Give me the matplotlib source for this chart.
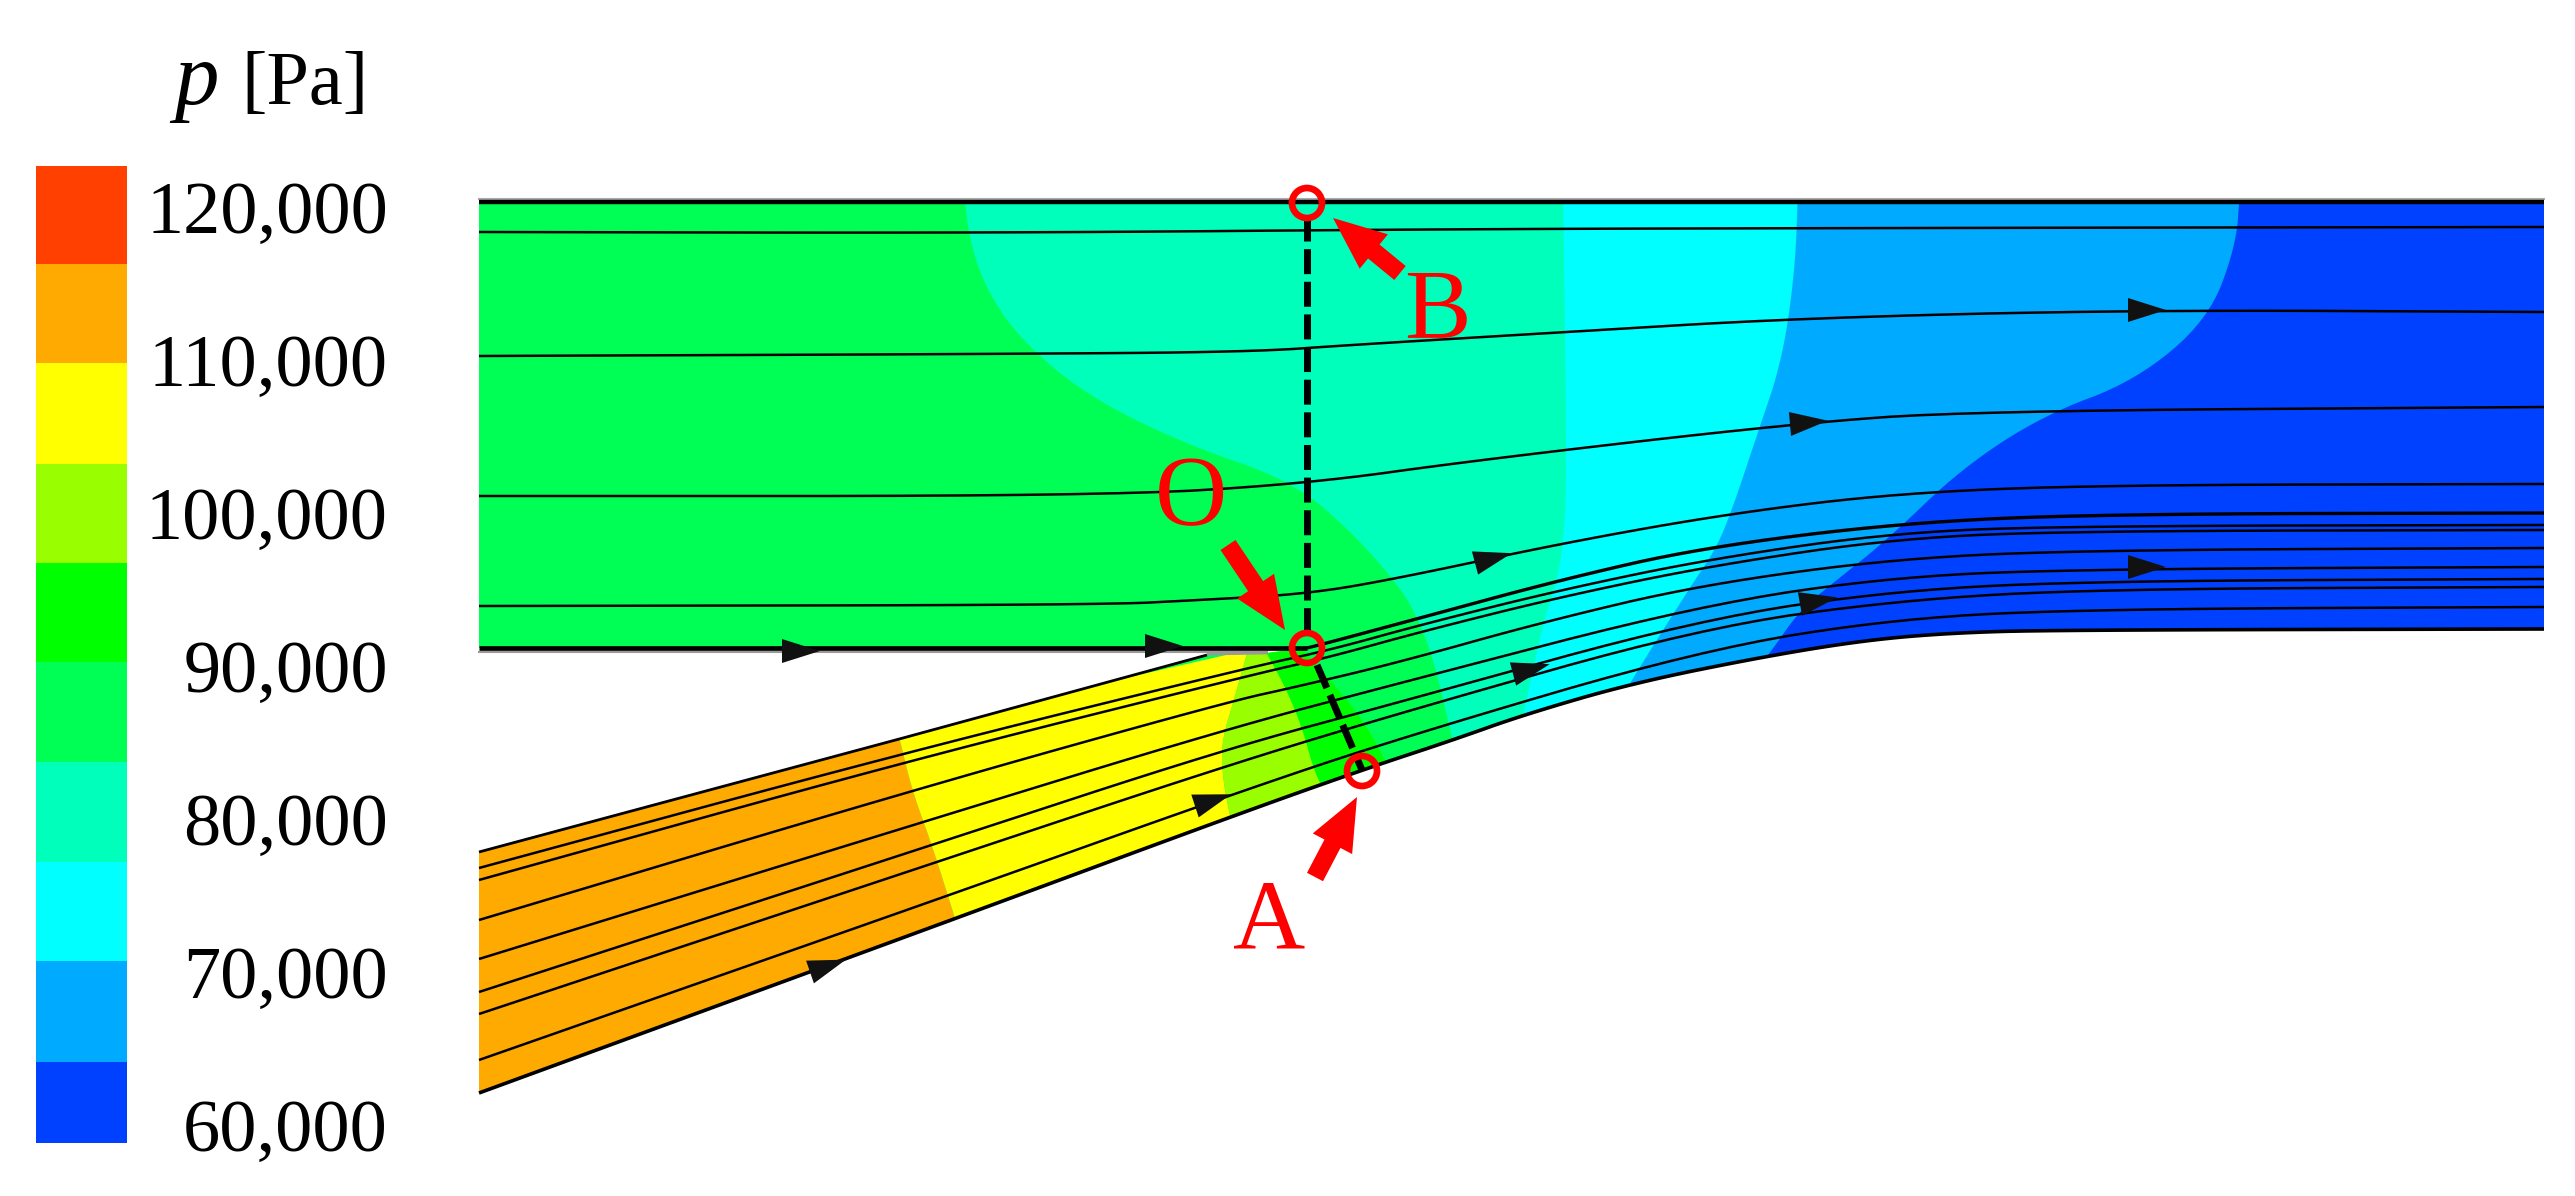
import matplotlib
matplotlib.use("Agg")
import matplotlib.pyplot as plt
from matplotlib.patches import Polygon, Circle, FancyArrowPatch
import numpy as np

plt.rcParams['font.family'] = ['Liberation Serif', 'DejaVu Serif']

# colour levels, top to bottom of the legend
level_colors = ['#ff4000', '#ffaa00', '#ffff00', '#99ff00', '#00ff00',
                '#00ff55', '#00ffbb', '#00ffff', '#00aaff', '#0040ff']
level_edges = [166, 264, 363, 464, 563, 662, 762, 862, 961, 1062, 1143]
tick_labels = ['120,000', '110,000', '100,000', '90,000', '80,000', '70,000', '60,000']
tick_baselines = [233, 386, 539, 692, 845, 998, 1151]

# walls
top_wall = [(479, 202), (2544, 202)]
mid_wall = [(479, 648), (1307, 648)]
lower_top_wall = [(479, 852), (903, 738), (1207, 655)]
lower_top_flat = [(1207, 654), (1267, 653)]
lower_bottom_wall = [(479, 1093), (957, 918), (1230, 817), (1362, 770), (1453, 740), (1523, 715),
                     (1633, 683), (1767, 656), (1867, 640), (1950, 633), (2050, 630), (2544, 629)]

# pressure band boundaries
b_inlet = [(470, 730), (470, 1110)]
b_orange_yellow = [(897, 730), (900, 740), (912, 790), (932, 845), (955, 918), (960, 935)]
b_yellow_lime = [(1248, 650), (1233, 703), (1222, 740), (1222, 773), (1230, 817), (1234, 830)]
b_lime_green = [(1265, 650), (1287, 690), (1303, 730), (1313, 767), (1322, 787), (1330, 805)]
b_green_mid = [(1303, 650), (1333, 683), (1363, 720), (1387, 763), (1395, 785)]
b_mid_aqua = [(964, 190), (969, 238), (985, 287), (1018, 337), (1084, 394), (1182, 443), (1290, 480),
              (1350, 530), (1400, 587), (1417, 617), (1433, 657), (1452, 737), (1458, 765)]
b_aqua_cyan = [(1563, 190), (1567, 480), (1563, 543), (1558, 577), (1543, 623), (1523, 717), (1517, 740)]
b_cyan_blue = [(1798, 190), (1795, 271), (1782, 361), (1757, 435), (1733, 507), (1717, 547),
               (1693, 583), (1663, 630), (1630, 683), (1618, 705)]
b_blue_dark = [(2240, 190), (2236, 246), (2208, 320), (2135, 381), (2044, 415), (1962, 468),
               (1887, 540), (1833, 583), (1800, 610), (1770, 653), (1752, 675)]

# streamlines
s1 = [(479, 232), (1000, 233), (1457, 229), (1900, 228), (2544, 227)]
s2 = [(479, 356), (1000, 354), (1250, 352), (1350, 345), (1550, 333), (1800, 318), (2135, 310), (2544, 312)]
s3 = [(479, 496), (1100, 496), (1305, 484), (1478, 460), (1790, 424), (1970, 411), (2544, 407)]
s4 = [(479, 606), (1100, 605), (1200, 600), (1307, 594), (1400, 578), (1563, 543), (1733, 513),
      (1900, 493), (2100, 485), (2544, 484)]
s_wall = [(1307, 648), (1327, 643), (1420, 618), (1560, 580), (1700, 548), (1900, 523), (2100, 514), (2544, 513)]
l1 = [(479, 868), (903, 753), (1247, 668), (1330, 650), (1420, 625), (1560, 590), (1715, 558),
      (1900, 532), (2080, 526), (2544, 525)]
l2 = [(479, 880), (903, 762), (1247, 676), (1330, 657), (1420, 632), (1560, 597), (1715, 565),
      (1900, 538), (2080, 531), (2544, 530)]
l3 = [(479, 920), (913, 790), (1227, 702), (1300, 686), (1400, 662), (1543, 622), (1700, 585),
      (1900, 558), (2100, 550), (2544, 548)]
l4 = [(479, 959), (923, 822), (1223, 730), (1400, 683), (1700, 605), (1900, 576), (2100, 569), (2544, 567)]
l5 = [(479, 992), (932, 845), (1222, 750), (1400, 702), (1700, 619), (1900, 590), (2100, 581), (2544, 579)]
l6 = [(479, 1014), (937, 862), (1222, 767), (1400, 713), (1700, 628), (1900, 600), (2100, 589), (2544, 587)]
l7 = [(479, 1060), (950, 895), (1230, 795), (1400, 738), (1700, 650), (1900, 618), (2100, 609), (2544, 607)]
thin_lines = [s1, s2, s3, s4, l1, l2, l3, l4, l5, l6, l7]

# flow direction marks: x, y, direction in degrees (up positive)
mark_x = [782, 1145, 810, 1195, 1475, 1513, 1800, 1790, 2128, 2128]
mark_y = [651, 646, 972, 806, 563, 674, 604, 424, 310, 567]
mark_ang = [0, 0, 19, 18, 15, 15, 10, 5, 0, 0]

# section line and annotated points
point_names = ['O', 'A', 'B']
point_x = [1307, 1362, 1307]
point_y = [648, 771, 203]
label_x = [1191, 1269, 1437]
label_y = [524, 948, 337]
arrow_tail = [(1228, 545), (1315, 877), (1400, 273)]
arrow_tip = [(1285, 630), (1357, 797), (1333, 218)]

W, H = 2575, 1196
fig = plt.figure(figsize=(W / 100, H / 100), dpi=100)
ax = fig.add_axes([0, 0, 1, 1])
ax.set_xlim(0, W)
ax.set_ylim(H, 0)
ax.axis('off')


def smooth(points, n=3):
    """Round the corners of a hand-read polyline (corner cutting)."""
    p = np.asarray(points, float)
    for _ in range(n):
        a, b = p[:-1], p[1:]
        q = np.empty((2 * len(a), 2))
        q[0::2] = 0.75 * a + 0.25 * b
        q[1::2] = 0.25 * a + 0.75 * b
        p = np.vstack([p[:1], q, p[-1:]])
    return [tuple(v) for v in p]


# legend
for c, y0, y1 in zip(level_colors, level_edges[:-1], level_edges[1:]):
    ax.bar(81.5, y1 - y0, width=91, bottom=y0, color=c, linewidth=0, zorder=1)
for t, y in zip(tick_labels, tick_baselines):
    ax.text(388, y, t, ha='right', va='baseline', fontsize=53.5, color='black')
ax.text(174, 104, 'p', ha='left', va='baseline', fontsize=64, fontstyle='italic', color='black')
ax.text(241, 104, '[Pa]', ha='left', va='baseline', fontsize=55, color='black')

# flow domain
wall_curve = smooth(lower_bottom_wall)
domain_pts = (top_wall + wall_curve[::-1] + lower_top_wall + lower_top_flat + [(1290, 650)] + mid_wall[:1])
domain = Polygon(domain_pts, closed=True, facecolor=level_colors[5], edgecolor='none', zorder=2)
ax.add_patch(domain)


def band(left, right, color, z=3):
    p = Polygon(smooth(left) + smooth(right)[::-1], closed=True, facecolor=color, edgecolor='none', zorder=z)
    ax.add_patch(p)
    p.set_clip_path(domain)


far_right = [(2600, 190), (2600, 800)]
band(b_inlet, b_orange_yellow, level_colors[1])
band(b_orange_yellow, b_yellow_lime, level_colors[2])
band(b_yellow_lime, b_lime_green, level_colors[3])
band(b_lime_green, b_green_mid, level_colors[4])
band(b_mid_aqua, far_right, level_colors[6], 3.1)
band(b_aqua_cyan, far_right, level_colors[7], 3.2)
band(b_cyan_blue, far_right, level_colors[8], 3.3)
band(b_blue_dark, far_right, level_colors[9], 3.4)


def draw(points, lw, z=4, color='black', rounded=True):
    xs, ys = zip(*(smooth(points) if rounded else points))
    ax.plot(xs, ys, color=color, lw=lw, solid_joinstyle='round', solid_capstyle='butt', zorder=z)


for line in thin_lines:
    draw(line, 1.8)
draw(s_wall, 2.4)
ax.plot([479, 2544], [199, 199], color='#aaaaaa', lw=1.5, zorder=3.9)
ax.plot([479, 1267], [651.5, 651.5], color='#999999', lw=1.5, zorder=3.9)
draw(top_wall, 3.2, rounded=False)
draw(mid_wall, 3.4, rounded=False)
draw(lower_top_wall, 2.0, rounded=False)
draw(lower_top_flat, 2.0, color='#999999', rounded=False)
draw(lower_bottom_wall, 2.6)

# flow direction marks
for x, y, a in zip(mark_x, mark_y, mark_ang):
    r = np.deg2rad(a)
    d = np.array([np.cos(r), -np.sin(r)])
    n = np.array([np.sin(r), np.cos(r)])
    o = np.array([x, y])
    ax.add_patch(Polygon([o - 12 * n, o + 38 * d, o + 12 * n], closed=True,
                         facecolor='#111111', edgecolor='none', zorder=5))

# section lines
ax.plot([point_x[2], point_x[2]], [216, 634], color='black', lw=5, dashes=(3.6, 1.1), zorder=6)
ax.plot([1317, 1362], [665, 770], color='black', lw=5, dashes=(3.6, 1.1), zorder=6)

# annotations
for name, x, y, lx, ly, tail, tip in zip(point_names, point_x, point_y, label_x, label_y, arrow_tail, arrow_tip):
    ax.add_patch(Circle((x, y), 15, facecolor='none', edgecolor='#ff0000', lw=4.8, zorder=7))
    ax.add_patch(FancyArrowPatch(tail, tip, arrowstyle='simple,head_width=32,head_length=38,tail_width=13',
                                 mutation_scale=1, color='#ff0000', shrinkA=0, shrinkB=0, lw=0, zorder=7))
    ax.text(lx, ly, name, color='#ff0000', ha='center', va='baseline', fontsize=72, zorder=8)

fig.savefig('out.png', dpi=100)
